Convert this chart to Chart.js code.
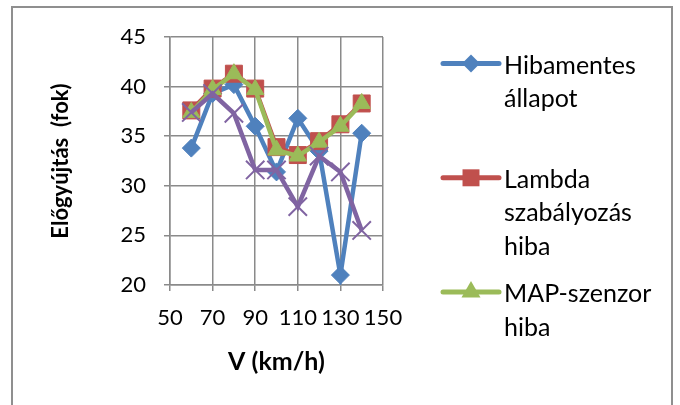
<!DOCTYPE html>
<html>
<head>
<meta charset="utf-8">
<script src="https://cdn.jsdelivr.net/npm/chart.js@4/dist/chart.umd.min.js"></script>
<style>
  html, body { margin: 0; padding: 0; background: #fff; }
  #c { display: block; }
</style>
</head>
<body>
<canvas id="c" width="680" height="405"></canvas>
<script>
// Sebesség (km/h) és előgyújtási szögek (fok)
const speeds = [60, 70, 80, 90, 100, 110, 120, 130, 140];
const hibamentes = [33.8, 39.3, 40.2, 36.0, 31.4, 36.8, 33.5, 21.0, 35.3];
const lambdaHiba = [37.6, 39.8, 41.3, 39.8, 33.9, 33.1, 34.5, 36.2, 38.3];
const mapHiba = [37.4, 39.7, 41.3, 39.7, 33.6, 33.0, 34.4, 36.0, 38.3];
const adatsor4 = [37.4, 39.3, 37.3, 31.6, 31.6, 27.9, 33.0, 31.4, 25.5];

const xTicks = [50, 70, 90, 110, 130, 150];
const yTicks = [20, 25, 30, 35, 40, 45];

const seriesNames = ['Hibamentes állapot', 'Lambda szabályozás hiba', 'MAP-szenzor hiba', 'Adatsor4'];
const legendLines = [['Hibamentes', 'állapot'], ['Lambda', 'szabályozás', 'hiba'], ['MAP-szenzor', 'hiba']];

const COLORS = ['#4F81BD', '#C0504D', '#9BBB59', '#8064A2'];
const FONT = 'Lato';

const toPoints = vals => speeds.map((s, i) => ({ x: s, y: vals[i] }));

function marker(ctx, style, x, y, r, color) {
  ctx.save();
  ctx.fillStyle = color;
  ctx.beginPath();
  if (style === 'rectRot') {
    ctx.moveTo(x - r, y); ctx.lineTo(x, y - r); ctx.lineTo(x + r, y); ctx.lineTo(x, y + r);
    ctx.closePath(); ctx.fill();
  } else if (style === 'rect') {
    const s = r * Math.SQRT1_2;
    ctx.rect(x - s, y - s, 2 * s, 2 * s); ctx.fill();
  } else if (style === 'triangle') {
    const h = r * 1.5, e = r * Math.sqrt(3);
    ctx.moveTo(x - e / 2, y + h / 3); ctx.lineTo(x, y - 2 * h / 3); ctx.lineTo(x + e / 2, y + h / 3);
    ctx.closePath(); ctx.fill();
  }
  ctx.restore();
}

const frameAndLegend = {
  id: 'frameAndLegend',
  beforeDraw(chart) {
    const ctx = chart.ctx;
    ctx.save();
    ctx.fillStyle = '#fff';
    ctx.fillRect(0, 0, chart.width, chart.height);
    ctx.restore();
  },
  afterDraw(chart) {
    const ctx = chart.ctx;
    ctx.save();
    // keret
    ctx.strokeStyle = '#8f8f8f';
    ctx.lineWidth = 2;
    ctx.strokeRect(12, 7, 660, 420);

    // jelmagyarázat
    const styles = ['rectRot', 'rect', 'triangle'];
    const radii = [9, 12, 11];
    const lineX0 = 443, lineX1 = 499, textX = 504;
    const top0 = 63.5, slot = 114.3, lineH = 33.5;
    ctx.font = '25px ' + FONT;
    ctx.textBaseline = 'middle';
    ctx.textAlign = 'left';
    legendLines.forEach((lines, i) => {
      const y = top0 + i * slot;
      ctx.strokeStyle = COLORS[i];
      ctx.lineWidth = 5;
      ctx.lineCap = 'round';
      ctx.beginPath(); ctx.moveTo(lineX0, y); ctx.lineTo(lineX1, y); ctx.stroke();
      marker(ctx, styles[i], (lineX0 + lineX1) / 2, y, radii[i], COLORS[i]);
      ctx.fillStyle = '#000';
      lines.forEach((t, k) => ctx.fillText(t, textX, y + 2 + k * lineH));
    });
    ctx.restore();
  }
};

const ds = (vals, i, style, radius, pbw) => ({
  label: seriesNames[i],
  data: toPoints(vals),
  borderColor: COLORS[i],
  backgroundColor: COLORS[i],
  borderWidth: 4.5,
  pointStyle: style,
  pointRadius: radius,
  pointHoverRadius: radius,
  pointBackgroundColor: COLORS[i],
  pointBorderColor: COLORS[i],
  pointBorderWidth: pbw,
  tension: 0,
  order: 3 - i
});

new Chart(document.getElementById('c'), {
  type: 'line',
  data: {
    datasets: [
      ds(hibamentes, 0, 'rectRot', 9, 1),
      ds(lambdaHiba, 1, 'rect', 12, 1),
      ds(mapHiba, 2, 'triangle', 10, 1),
      ds(adatsor4, 3, 'crossRot', 13, 2)
    ]
  },
  options: {
    responsive: false,
    animation: false,
    devicePixelRatio: 1,
    layout: { padding: { top: 37, right: 297, left: 0, bottom: 0 } },
    plugins: { legend: { display: false }, tooltip: { enabled: false } },
    scales: {
      x: {
        type: 'linear',
        min: xTicks[0],
        max: xTicks[xTicks.length - 1],
        afterBuildTicks: s => { s.ticks = xTicks.map(v => ({ value: v })); },
        afterFit: s => { s.height = 120; },
        ticks: { autoSkip: false, maxRotation: 0, minRotation: 0, padding: 14, color: '#000', font: { family: FONT, size: 22 } },
        grid: { color: '#8a8a8a', lineWidth: 1.5, tickLength: 6, tickColor: '#8a8a8a' },
        border: { color: '#8a8a8a', width: 1.5 },
        title: { display: true, text: 'V (km/h)', color: '#000', font: { family: FONT, size: 25, weight: 'bold' }, padding: { top: 0, bottom: 28 } }
      },
      y: {
        min: yTicks[0],
        max: yTicks[yTicks.length - 1],
        afterBuildTicks: s => { s.ticks = yTicks.map(v => ({ value: v })); },
        afterFit: s => { s.width = 170; },
        ticks: { padding: 18, color: '#000', font: { family: FONT, size: 22 } },
        grid: { color: '#8a8a8a', lineWidth: 1.5, tickLength: 6, tickColor: '#8a8a8a' },
        border: { color: '#8a8a8a', width: 1.5 },
        title: { display: true, text: 'Előgyújtás  (fok)', color: '#000', font: { family: FONT, size: 22, weight: 'bold' }, padding: { top: 48, bottom: 0 } }
      }
    }
  },
  plugins: [frameAndLegend]
});
</script>
</body>
</html>
